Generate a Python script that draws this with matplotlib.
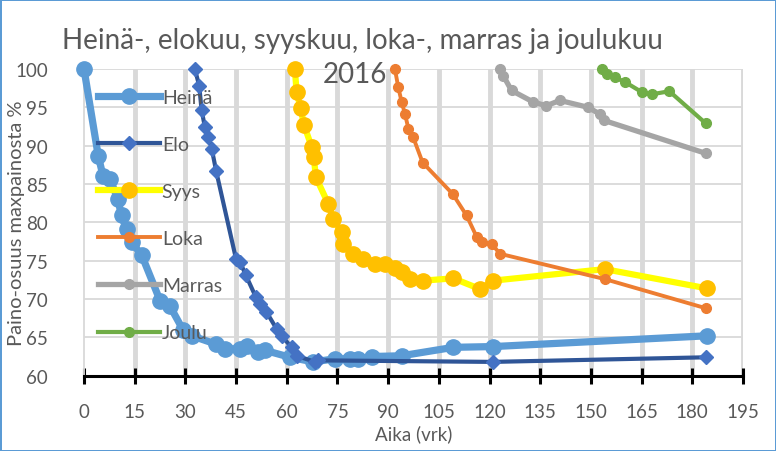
import matplotlib.pyplot as plt

plt.rcParams['font.family'] = ['Lato', 'DejaVu Sans']
text_color = '#595959'

# Heinä (July)
heina_x = [0, 4.2, 5.6, 7.7, 10.0, 11.1, 12.6, 14.1, 17.1, 22.5, 25.4, 29.4, 31.9,
           39.2, 41.7, 46.2, 48.1, 51.6, 53.6, 61.0, 67.8, 74.3, 78.7, 81.2, 85.1,
           94.0, 109.3, 121.1, 184.2]
heina_y = [100, 88.7, 86.1, 85.7, 83.0, 80.9, 79.1, 77.4, 75.7, 69.8, 69.1, 65.9, 65.2,
           64.1, 63.5, 63.5, 63.9, 63.1, 63.3, 62.4, 61.8, 62.2, 62.2, 62.2, 62.5,
           62.6, 63.7, 63.8, 65.2]

# Elo (August)
elo_x = [32.8, 34.1, 34.8, 35.8, 36.8, 37.8, 39.1, 45.0, 46.2, 47.9, 50.9, 52.1, 54.0,
         57.0, 58.5, 61.4, 62.9, 68.3, 69.3, 120.9, 184.0]
elo_y = [100, 97.8, 94.6, 92.4, 91.1, 89.6, 86.7, 75.2, 74.8, 73.1, 70.2, 69.4, 68.3,
         66.1, 65.2, 63.7, 62.6, 61.8, 62.0, 61.8, 62.4]

# Syys (September)
syys_x = [62.4, 62.9, 64.1, 65.1, 67.4, 68.0, 68.6, 72.3, 73.8, 76.2, 76.7, 79.7, 82.6,
          86.1, 89.1, 92.0, 94.0, 96.4, 100.4, 109.3, 117.2, 121.1, 154.1, 184.2]
syys_y = [100, 97.0, 94.9, 92.7, 89.8, 88.5, 85.9, 82.4, 80.4, 78.7, 77.2, 75.9, 75.2,
          74.6, 74.6, 74.1, 73.5, 72.6, 72.4, 72.7, 71.3, 72.4, 73.9, 71.4]

# Loka (October)
loka_x = [92.0, 93.0, 94.0, 95.0, 96.0, 97.4, 100.2, 109.1, 113.2, 116.2, 117.7,
          120.6, 123.1, 154.1, 184.0]
loka_y = [100, 97.6, 95.7, 94.1, 92.2, 91.1, 87.8, 83.7, 80.9, 78.1, 77.4,
          77.2, 75.9, 72.6, 68.8]

# Marras (November)
marras_x = [123.1, 124.1, 126.5, 132.9, 136.8, 140.8, 149.2, 152.7, 153.8, 184.0]
marras_y = [100, 99.1, 97.2, 95.7, 95.2, 95.9, 95.0, 94.1, 93.3, 89.0]

# Joulu (December)
joulu_x = [153.2, 154.7, 157.1, 160.1, 165.0, 168.0, 173.2, 184.0]
joulu_y = [100, 99.3, 98.9, 98.3, 97.0, 96.7, 97.1, 92.9]

fig = plt.figure(figsize=(7.76, 4.52), dpi=100, facecolor='white',
                 edgecolor='#5B9BD5', linewidth=2)
ax = fig.add_axes([84 / 776, 1 - 376.7 / 452, (743 - 84) / 776, (376.7 - 70) / 452])

ax.plot(heina_x, heina_y, color='#5B9BD5', lw=5.2, marker='o', ms=11,
        label='Heinä', clip_on=False, zorder=3)
ax.plot(elo_x, elo_y, color='#2F5597', lw=3, marker='D', ms=7, mfc='#4472C4',
        mec='#4472C4', label='Elo', clip_on=False, zorder=3)
ax.plot(syys_x, syys_y, color='#FFFF00', lw=4.5, marker='o', ms=11, mfc='#FFC000',
        mec='#FFC000', label='Syys', clip_on=False, zorder=3)
ax.plot(loka_x, loka_y, color='#ED7D31', lw=2.8, marker='o', ms=7,
        label='Loka', clip_on=False, zorder=3)
ax.plot(marras_x, marras_y, color='#A5A5A5', lw=3.8, marker='o', ms=7,
        label='Marras', clip_on=False, zorder=3)
ax.plot(joulu_x, joulu_y, color='#70AD47', lw=3, marker='o', ms=7,
        label='Joulu', clip_on=False, zorder=3)

ax.set_xlim(0, 195)
ax.set_ylim(60, 100)
ax.set_xticks(range(0, 196, 15))
ax.set_yticks(range(60, 101, 5))

# grid: thick vertical, thin horizontal
for x in range(15, 196, 15):
    ax.axvline(x, color='#D9D9D9', lw=3.5, zorder=1)
for y in range(65, 101, 5):
    ax.axhline(y, color='#D9D9D9', lw=1.3, zorder=1)

for side in ['top', 'right']:
    ax.spines[side].set_visible(False)
ax.spines['left'].set_color('#D9D9D9')
ax.spines['left'].set_linewidth(1.3)
ax.spines['bottom'].set_color('black')
ax.spines['bottom'].set_linewidth(2.2)
ax.spines['bottom'].set_zorder(4)

ax.tick_params(axis='x', direction='inout', length=11, width=2.2, color='black',
               labelsize=13.5, labelcolor=text_color, pad=14)
ax.tick_params(axis='y', length=0, labelsize=13.5, labelcolor=text_color, pad=26)

ax.set_xlabel('Aika (vrk)', fontsize=13.5, color=text_color, labelpad=3)
ax.set_ylabel('Paino-osuus maxpainosta %', fontsize=14.5, color=text_color)
ax.yaxis.set_label_coords(-0.09, 0.5)

fig.text(362 / 776, 1 - 41 / 452, 'Heinä-, elokuu, syyskuu, loka-, marras ja joulukuu',
         ha='center', va='center', fontsize=20, color=text_color)
fig.text(355 / 776, 1 - 75 / 452, '2016', ha='center', va='center',
         fontsize=20, color=text_color)

leg = ax.legend(loc='upper left', bbox_to_anchor=(0.0, 0.98), frameon=False,
                fontsize=14, labelspacing=1.55, handlelength=3.2, handletextpad=0.1,
                borderaxespad=0.3)
for t in leg.get_texts():
    t.set_color(text_color)

fig.savefig('out.png', dpi=100)
